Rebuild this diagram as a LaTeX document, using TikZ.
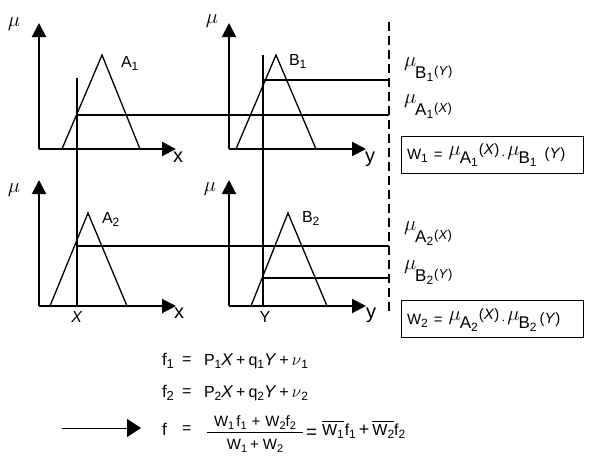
\documentclass[tikz,border=0pt]{standalone}
\usepackage{fontspec}
\setmainfont{Liberation Sans}
\usetikzlibrary{arrows.meta}
\newcommand{\fs}[1]{\fontsize{#1}{#1}\selectfont}
\newcommand{\sub}[2][11]{\raisebox{-3.5pt}{\fs{#1}#2}}
% right-hand labels: mu raised, letter, subscript, (arg)
\newcommand{\mulab}[3]{\raisebox{12pt}{\fs{20}$\mu$}\kern-1pt{\fs{17}#1}\raisebox{-3.5pt}{\fs{12}#2}\raisebox{3pt}{\fs{13}\kern1pt(\textit{#3})}}
\newcommand{\wbar}[1]{\vbox{\hrule height 1.1pt\kern1.8pt\hbox{W\raisebox{-3pt}{\fs{12}#1}}}}
\newcommand{\wline}[2]{{\fs{15}W\sub[12]{#1}}\kern6pt{\fs{15}=}\kern6pt\raisebox{4pt}{\fs{20}$\mu$}\kern-1pt\raisebox{-4pt}{\fs{17}A\sub[12]{#1}}\kern1pt\raisebox{5pt}{\fs{15}(\textit{X})}\kern2pt{\fs{15}$\cdot$}\kern2pt\raisebox{4pt}{\fs{20}$\mu$}\kern-1pt\raisebox{-4pt}{\fs{17}B\sub[12]{#1}}\kern#2\raisebox{1pt}{\fs{15}(\textit{Y})}}
\begin{document}
\begin{tikzpicture}[x=1pt,y=-1pt,
  axis/.style={line width=2pt,-{Triangle[length=14pt,width=14pt]}},
  guide/.style={line width=1.4pt},
  tri/.style={line width=1.3pt},
  lbl/.style={inner sep=0pt,outer sep=0pt},
  boxed/.style={draw,line width=1pt,inner sep=0pt,minimum width=182pt,minimum height=37pt}]
\fill[white] (0,0) rectangle (592,466);
\useasboundingbox (0,0) rectangle (592,466);

% ---------- coordinates ----------
\coordinate (o1) at (39,149); \coordinate (y1) at (39,23); \coordinate (x1) at (176,149);
\coordinate (o2) at (229,149); \coordinate (y2) at (229,23); \coordinate (x2) at (366,149);
\coordinate (o3) at (39,306); \coordinate (y3) at (39,180); \coordinate (x3) at (176,306);
\coordinate (o4) at (229,306); \coordinate (y4) at (229,180); \coordinate (x4) at (366,306);

% ---------- axes ----------
\draw[axis] (o1) -- (y1); \draw[axis] (o1) -- (x1);
\draw[axis] (o2) -- (y2); \draw[axis] (o2) -- (x2);
\draw[axis] (o3) -- (y3); \draw[axis] (o3) -- (x3);
\draw[axis] (o4) -- (y4); \draw[axis] (o4) -- (x4);

% ---------- triangles ----------
\coordinate (a1l) at (62,149);  \coordinate (a1t) at (102,55);  \coordinate (a1r) at (140,149);
\coordinate (b1l) at (236,149); \coordinate (b1t) at (276,55);  \coordinate (b1r) at (316,149);
\coordinate (a2l) at (50,306);  \coordinate (a2t) at (88,213);  \coordinate (a2r) at (127,306);
\coordinate (b2l) at (251,306); \coordinate (b2t) at (288,213); \coordinate (b2r) at (327,306);
\draw[tri] (a1l) -- (a1t) -- (a1r);
\draw[tri] (b1l) -- (b1t) -- (b1r);
\draw[tri] (a2l) -- (a2t) -- (a2r);
\draw[tri] (b2l) -- (b2t) -- (b2r);

% ---------- guide lines ----------
\coordinate (vxT) at (77,78);  \coordinate (vxB) at (77,306);
\coordinate (vyT) at (263,55); \coordinate (vyB) at (263,306);
\draw[guide] (vxT) -- (vxB);
\draw[guide] (vyT) -- (vyB);
\coordinate (dT) at (389,22); \coordinate (dB) at (389,312);
\draw[line width=1.2pt,dash pattern=on 9pt off 5pt] (dT) -- (dB);
\coordinate (hA1s) at (77,115);  \coordinate (hA1e) at (389,115);
\coordinate (hB1s) at (263,80);  \coordinate (hB1e) at (389,80);
\coordinate (hA2s) at (77,246);  \coordinate (hA2e) at (389,246);
\coordinate (hB2s) at (263,278); \coordinate (hB2e) at (389,278);
\draw[guide] (hA1s) -- (hA1e);
\draw[guide] (hB1s) -- (hB1e);
\draw[guide] (hA2s) -- (hA2e);
\draw[guide] (hB2s) -- (hB2e);

% ---------- axis labels ----------
\node[lbl,font=\fs{20}] (mu1) at (14,24) {$\mu$};
\node[lbl,font=\fs{20}] (mu2) at (212,21) {$\mu$};
\node[lbl,font=\fs{20}] (mu3) at (14,190) {$\mu$};
\node[lbl,font=\fs{20}] (mu4) at (210,189) {$\mu$};
\node[lbl,font=\fs{20}] (lx1) at (178,157) {x};
\node[lbl,font=\fs{20}] (ly1) at (370,159) {y};
\node[lbl,font=\fs{20}] (lx2) at (179,313) {x};
\node[lbl,font=\fs{20}] (ly2) at (371,315) {y};
\node[lbl,font=\fs{16}] (lX) at (77,317) {\textit{X}};
\node[lbl,font=\fs{16}] (lY) at (265,317) {Y};

\node[lbl,anchor=base west,font=\fs{16}] (A1) at (121,67) {A\sub[12]{1}};
\node[lbl,anchor=base west,font=\fs{16}] (B1) at (289,65) {B\sub[12]{1}};
\node[lbl,anchor=base west,font=\fs{16}] (A2) at (102,223) {A\sub[12]{2}};
\node[lbl,anchor=base west,font=\fs{16}] (B2) at (302,222) {B\sub[12]{2}};

% ---------- right-hand labels ----------
\node[lbl,anchor=base west] (muB1) at (404,78) {\mulab{B}{1}{Y}};
\node[lbl,anchor=base west] (muA1) at (404,115) {\mulab{A}{1}{X}};
\node[lbl,anchor=base west] (muA2) at (404,242) {\mulab{A}{2}{X}};
\node[lbl,anchor=base west] (muB2) at (404,281) {\mulab{B}{2}{Y}};

\node[boxed] (W1box) at (492,154.5) {};
\node[lbl,anchor=base west] (W1) at (407,159) {\wline{1}{8pt}};
\node[boxed] (W2box) at (492,319) {};
\node[lbl,anchor=base west] (W2) at (407,324) {\wline{2}{3pt}};

% ---------- formulas ----------
\node[lbl,anchor=base west,font=\fs{17}] (f1) at (162,365) {f\sub[13]{1}};
\node[lbl,anchor=base west,font=\fs{16}] (e1) at (182,364) {=};
\node[lbl,anchor=base west,font=\fs{16}] (r1) at (204,365) {P\sub[12]{1}{\fs{17}\textit{X}}\kern3pt+\kern3pt q\sub[12]{1}{\fs{17}\textit{Y}}\kern3pt+\kern3pt{\fs{17}$\nu$}\sub[12]{1}};
\node[lbl,anchor=base west,font=\fs{17}] (f2) at (162,397) {f\sub[13]{2}};
\node[lbl,anchor=base west,font=\fs{16}] (e2) at (182,396) {=};
\node[lbl,anchor=base west,font=\fs{16}] (r2) at (204,397) {P\sub[12]{2}{\fs{17}\textit{X}}\kern3pt+\kern3pt q\sub[12]{2}{\fs{17}\textit{Y}}\kern3pt+\kern3pt{\fs{17}$\nu$}\sub[12]{2}};

\coordinate (as) at (62,428); \coordinate (ae) at (141,428);
\draw[line width=1pt,-{Triangle[length=14pt,width=18pt]}] (as) -- (ae);
\node[lbl,anchor=base west,font=\fs{17}] (f) at (162,435) {f};
\node[lbl,anchor=base west,font=\fs{16}] (e3) at (182,433) {=};
\node[lbl,anchor=base,font=\fs{15}] (num) at (255,426) {W\sub[11]{1}\kern2pt f\sub[11]{1}\kern5pt+\kern5pt W\sub[11]{2}f\sub[11]{2}};
\coordinate (barL) at (207,432); \coordinate (barR) at (303,432);
\draw[line width=1pt] (barL) -- (barR);
\node[lbl,anchor=base,font=\fs{15}] (den) at (255,449) {W\sub[11]{1}\kern3pt+\kern4pt W\sub[11]{2}};
\node[lbl,anchor=base west,font=\fs{19}] (e4) at (306,438) {=};
\node[lbl,anchor=base west,font=\fs{16}] (rhs) at (322,435) {\wbar{1}\kern1pt f\sub[12]{1}\kern3pt{\fs{18}+}\kern3pt\wbar{2}f\sub[12]{2}};
\end{tikzpicture}
\end{document}
